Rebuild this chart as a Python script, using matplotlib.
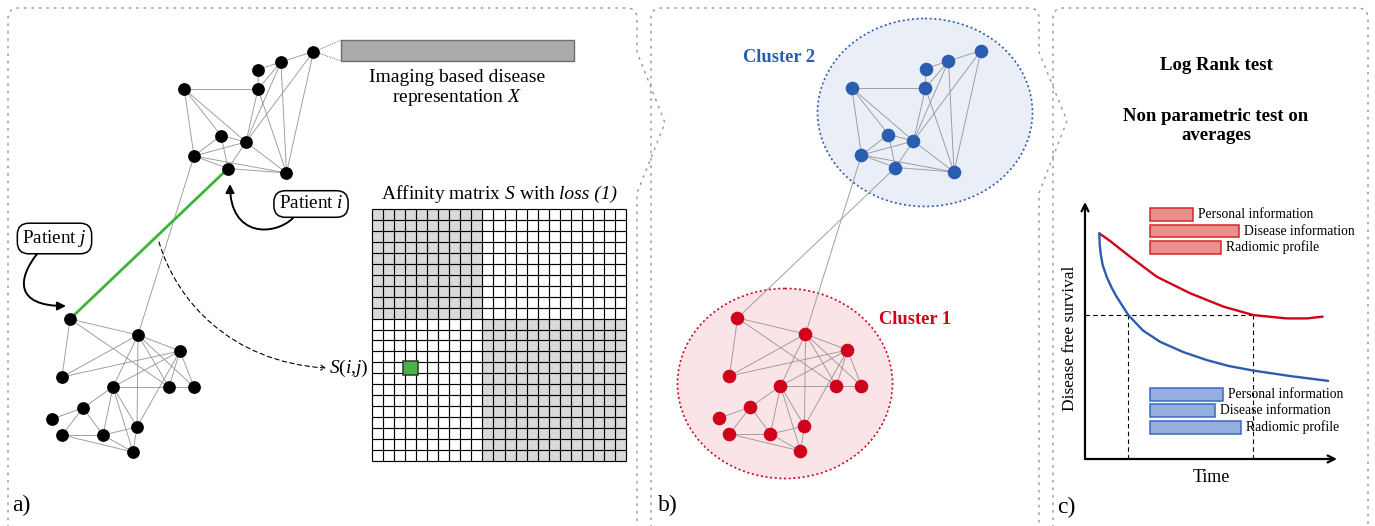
import numpy as np
import matplotlib
matplotlib.use("Agg")
import matplotlib.pyplot as plt
from matplotlib.path import Path
from matplotlib.patches import PathPatch, FancyArrowPatch, Ellipse, Rectangle
from matplotlib.colors import ListedColormap

plt.rcParams['font.family'] = 'Liberation Serif'
plt.rcParams['mathtext.fontset'] = 'custom'
plt.rcParams['mathtext.rm'] = 'Liberation Serif'
plt.rcParams['mathtext.it'] = 'Liberation Serif:italic'
plt.rcParams['mathtext.bf'] = 'Liberation Serif:bold'

# --- graph (panel a pixel frame) ---
top_nodes = np.array([(313.5, 51.5), (281, 62), (258.3, 69.5), (184.3, 89), (258, 89),
                      (221, 135.5), (246, 142), (194, 156), (228, 168.5), (286.5, 173)])
bottom_nodes = np.array([(70, 319), (138, 335), (180, 351), (62, 377), (113, 387), (169, 387),
                         (194, 387), (83, 408), (52, 419), (62, 435), (103, 435), (137, 427),
                         (133, 452)])
top_edges = [(0, 1), (0, 6), (0, 9), (1, 2), (1, 6), (1, 9), (1, 4), (2, 4), (3, 4), (3, 5),
             (3, 6), (3, 7), (4, 6), (4, 9), (5, 6), (5, 7), (5, 8), (6, 7), (6, 8), (6, 9),
             (7, 8), (7, 9), (8, 9)]
bottom_edges = [(0, 1), (0, 3), (0, 5), (1, 2), (1, 3), (1, 4), (1, 5), (1, 6), (1, 11),
                (2, 3), (2, 4), (2, 5), (2, 6), (2, 11), (4, 5), (5, 6), (4, 7), (4, 10),
                (4, 11), (4, 12), (7, 8), (7, 9), (7, 10), (9, 10), (9, 12), (10, 11),
                (10, 12), (11, 12)]
cross_edges = [(7, 1), (8, 0)]   # (top idx, bottom idx)
patient_i, patient_j = 8, 0
panel_b_shift = (667.5, -1.0)

# --- affinity matrix ---
cluster_sizes = [10, 13]
highlight_cell = (3, 14)  # (col, row)

# --- survival (panel c) ---
red_t = [0.57, 1.0, 1.79, 2.85, 4.17, 5.49, 6.68, 8.0, 8.8, 9.43]
red_s = [0.878, 0.848, 0.787, 0.709, 0.645, 0.593, 0.560, 0.547, 0.547, 0.554]
blue_t = [0.57, 0.58, 0.62, 0.70, 0.86, 1.05, 1.25, 1.72, 2.3, 2.98, 3.9, 4.83, 5.7, 6.68, 8.2, 9.65]
blue_s = [0.878, 0.840, 0.800, 0.755, 0.709, 0.668, 0.632, 0.560, 0.500, 0.456, 0.416, 0.385,
          0.362, 0.344, 0.322, 0.304]
median_s = 0.560
median_t = [1.72, 6.68]
features = ['Personal information', 'Disease information', 'Radiomic profile']
red_scores = [1.69, 3.54, 2.82]
blue_scores = [2.90, 2.58, 3.61]

RED = '#d0021b'
BLUE = '#2a5db0'
EDGE = '#9a9a9a'
FS = 14.0

fig = plt.figure(figsize=(13.75, 5.26), dpi=100)
ax = fig.add_axes([0, 0, 1, 1])
ax.set_xlim(0, 1375)
ax.set_ylim(526, 0)
ax.axis('off')
renderer = fig.canvas.get_renderer()


def rich_text(xc, y, parts, gap=4.5, **kw):
    # parts drawn one after another, centred on xc as a whole
    texts, widths = [], []
    for s, style in parts:
        t = ax.text(0, y, s, ha='left', va='center', fontstyle=style, **kw)
        widths.append(t.get_window_extent(renderer).width)
        texts.append(t)
    x = xc - (sum(widths) + gap * (len(parts) - 1)) / 2
    for t, w in zip(texts, widths):
        t.set_x(x)
        x += w + gap


def rounded_panel(pts):
    verts, codes = [], []
    for i, p in enumerate(pts):
        if isinstance(p[0], tuple):
            verts += [p[0], p[1]]
            codes += [Path.CURVE3, Path.CURVE3]
        else:
            verts.append(p)
            codes.append(Path.MOVETO if i == 0 else Path.LINETO)
    ax.add_patch(PathPatch(Path(verts, codes), fill=False, edgecolor='#9a9a9a', lw=1.1,
                           linestyle=(0, (1, 3.9)), capstyle='round'))


rounded_panel([(8, 540), (8, 18), ((8, 8), (18, 8)), (627, 8), ((637, 8), (637, 18)),
               (637, 52), (665, 123), (637, 193), (637, 540)])
rounded_panel([(651, 540), (651, 18), ((651, 8), (661, 8)), (1029, 8), ((1039, 8), (1039, 18)),
               (1039, 52), (1067, 121), (1039, 193), (1039, 540)])
rounded_panel([(1053, 540), (1053, 18), ((1053, 8), (1063, 8)), (1358, 8),
               ((1368, 8), (1368, 18)), (1368, 540)])


def draw_graph(top, bottom, color, ms, green):
    for a, b in top_edges:
        ax.plot(top[[a, b], 0], top[[a, b], 1], color=EDGE, lw=0.65, zorder=2)
    for a, b in bottom_edges:
        ax.plot(bottom[[a, b], 0], bottom[[a, b], 1], color=EDGE, lw=0.65, zorder=2)
    for a, b in cross_edges:
        hl = green and (a, b) == (patient_i, patient_j)
        ax.plot([top[a, 0], bottom[b, 0]], [top[a, 1], bottom[b, 1]],
                color='#3cb43c' if hl else EDGE, lw=2.0 if hl else 0.65, zorder=3 if hl else 2)
    ax.plot(top[:, 0], top[:, 1], 'o', color=color[0], ms=ms, mec='none', zorder=4)
    ax.plot(bottom[:, 0], bottom[:, 1], 'o', color=color[1], ms=ms, mec='none', zorder=4)


# ---------------- panel a ----------------
draw_graph(top_nodes, bottom_nodes, ('black', 'black'), 9.2, True)

# feature vector bar
ax.add_patch(Rectangle((341, 40), 233, 21, facecolor='#aaaaaa', edgecolor='#6e6e6e', lw=1.0))
for yy in (40, 61):
    ax.plot([top_nodes[0, 0] + 5, 341], [top_nodes[0, 1] + (yy - 50.5) * 0.15, yy],
            color='#555555', lw=0.6, linestyle=(0, (1, 1.2)))
ax.text(457, 77, 'Imaging based disease', ha='center', va='center', fontsize=FS)
ax.text(457, 98, 'representation $X$', ha='center', va='center', fontsize=FS)

# patient labels
bbox = dict(boxstyle='round,pad=0.25,rounding_size=0.6', fc='white', ec='black', lw=1.1)
ax.text(311, 204, 'Patient $i$', ha='center', va='center', fontsize=13.8, bbox=bbox, zorder=6)
ax.text(54.5, 238.5, 'Patient $j$', ha='center', va='center', fontsize=13.8, bbox=bbox, zorder=6)

arr_i = Path([(293, 218), (275, 236), (230, 238), (230, 184)],
             [Path.MOVETO, Path.CURVE4, Path.CURVE4, Path.CURVE4])
ax.add_patch(FancyArrowPatch(path=arr_i, arrowstyle='-|>,head_length=5,head_width=2.5',
                             color='black', lw=1.4, zorder=5))
arr_j = Path([(37, 254), (18, 278), (14, 306), (66, 306)],
             [Path.MOVETO, Path.CURVE4, Path.CURVE4, Path.CURVE4])
ax.add_patch(FancyArrowPatch(path=arr_j, arrowstyle='-|>,head_length=5,head_width=2.5',
                             color='black', lw=1.4, zorder=5))
arr_s = Path([(159, 242), (176, 300), (230, 362), (326, 368)],
             [Path.MOVETO, Path.CURVE4, Path.CURVE4, Path.CURVE4])
ax.add_patch(FancyArrowPatch(path=arr_s, arrowstyle='->,head_length=3,head_width=1.8',
                             color='black', lw=0.8, linestyle=(0, (4, 3)), zorder=5))
ax.text(329, 368, '$S(i{,}j)$', ha='left', va='center', fontsize=FS)

# affinity matrix
labels = np.repeat(np.arange(len(cluster_sizes)), cluster_sizes)
S = (labels[:, None] == labels[None, :]).astype(float)
n = len(labels)
gx = np.linspace(372, 626, n + 1)
gy = np.linspace(209, 461, n + 1)
ax.pcolormesh(gx, gy, S, cmap=ListedColormap(['white', '#d9d9d9']), zorder=3)
ax.vlines(gx, gy[0], gy[-1], color='black', lw=0.85, zorder=3)
ax.hlines(gy, gx[0], gx[-1], color='black', lw=0.85, zorder=3)
cw, ch = gx[1] - gx[0], gy[1] - gy[0]
cx = gx[highlight_cell[0]] + cw / 2
cy = gy[highlight_cell[1]] + ch / 2
ax.add_patch(Rectangle((cx - 7.5, cy - 7.3), 15, 14.6, facecolor='#46b446', edgecolor='#333333',
                       lw=1.1, zorder=4))
rich_text(499, 194, [('Affinity matrix $S$ with', 'normal'), ('loss (1)', 'italic')],
          fontsize=FS)

ax.text(12, 505, 'a)', ha='left', va='center', fontsize=17)

# ---------------- panel b ----------------
ax.add_patch(Ellipse((925, 112.5), 215, 188, facecolor='#e9eef7', edgecolor=BLUE, lw=1.2,
                     linestyle=(0, (1.2, 1.6)), zorder=1))
ax.add_patch(Ellipse((785, 383.5), 215, 190, facecolor='#fae4e7', edgecolor=RED, lw=1.2,
                     linestyle=(0, (1.2, 1.6)), zorder=1))
draw_graph(top_nodes + np.array(panel_b_shift), bottom_nodes + np.array(panel_b_shift),
           (BLUE, RED), 9.8, False)
ax.text(779, 58, 'Cluster 2', ha='center', va='center', fontsize=13.3, fontweight='bold',
        color=BLUE)
ax.text(915, 319, 'Cluster 1', ha='center', va='center', fontsize=13.3, fontweight='bold',
        color=RED)
ax.text(658, 505, 'b)', ha='left', va='center', fontsize=17)

# ---------------- panel c ----------------
ax.text(1216, 65, 'Log Rank test', ha='center', va='center', fontsize=13.5, fontweight='bold')
ax.text(1216, 126, 'Non parametric test on\naverages', ha='center', va='center', fontsize=13.5,
        fontweight='bold', linespacing=1.2)
ax.text(1057, 507, 'c)', ha='left', va='center', fontsize=17)

W, H = 1375, 526
sax = fig.add_axes([1085 / W, (H - 459) / H, (1337 - 1085) / W, (459 - 202) / H])
sax.set_xlim(0, 10)
sax.set_ylim(0, 1)
sax.axis('off')
arrow = dict(arrowstyle='->,head_length=0.5,head_width=0.25', lw=1.6, color='black',
             shrinkA=0, shrinkB=0)
sax.annotate('', xy=(10, 0), xytext=(0, 0), arrowprops=arrow, annotation_clip=False)
sax.annotate('', xy=(0, 1), xytext=(0, 0), arrowprops=arrow, annotation_clip=False)
sax.plot([0, median_t[1]], [median_s, median_s], color='black', lw=0.8, ls=(0, (4, 3)))
for t in median_t:
    sax.plot([t, t], [0, median_s], color='black', lw=0.8, ls=(0, (4, 3)))
sax.plot(red_t, red_s, color=RED, lw=1.7, solid_capstyle='round')
sax.plot(blue_t, blue_s, color=BLUE, lw=1.7, solid_capstyle='round')

bar_left = 2.58
bar_h = 0.05
red_y = [0.950, 0.887, 0.823]
blue_y = [0.252, 0.189, 0.123]
for ys, scores, fc, ec in ((red_y, red_scores, '#e8908b', '#d8262b'),
                           (blue_y, blue_scores, '#94aedd', '#3a68c2')):
    sax.barh(ys, scores, height=bar_h, left=bar_left, color=fc, edgecolor=ec, lw=1.1,
             clip_on=False)
    for y, v, lab in zip(ys, scores, features):
        sax.text(bar_left + v + 0.2, y, lab, ha='left', va='center', fontsize=9.8,
                 clip_on=False)

sax.text(5.0, -0.04, 'Time', ha='center', va='top', fontsize=13)
sax.text(-0.6, 0.47, 'Disease free survival', ha='center', va='center', rotation=90,
         fontsize=12.4)

fig.savefig('out.png', dpi=100)
